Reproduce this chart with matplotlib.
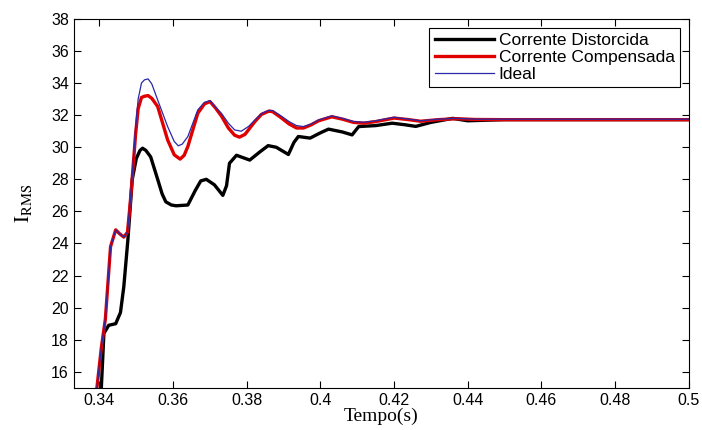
## RMS current step response: distorted vs compensated vs ideal
import matplotlib
matplotlib.use("Agg")
import matplotlib.pyplot as plt

t_ideal = [0.3393, 0.3405, 0.3416, 0.3430, 0.3444, 0.3455, 0.3466, 0.3476, 0.3483, 0.3490,
           0.3498, 0.3505, 0.3514, 0.3522, 0.3532, 0.3542, 0.3558, 0.3585, 0.3603, 0.3614,
           0.3625, 0.3640, 0.3667, 0.3685, 0.3700, 0.3715, 0.3731, 0.3750, 0.3767, 0.3785,
           0.3805, 0.3822, 0.3840, 0.3860, 0.3870, 0.3890, 0.3915, 0.3935, 0.3954, 0.3975,
           0.3995, 0.4031, 0.4060, 0.4090, 0.4118, 0.4150, 0.4200, 0.4240, 0.4272, 0.4320,
           0.4370, 0.4420, 0.4500, 0.5000]
ideal = [15.0, 17.5, 19.3, 23.8, 24.85, 24.6, 24.4, 24.7, 26.5, 28.6,
         31.2, 33.0, 34.0, 34.2, 34.26, 33.95, 32.95, 31.29, 30.36, 30.09,
         30.2, 30.67, 32.33, 32.8, 32.9, 32.5, 32.12, 31.5, 31.08, 31.0,
         31.3, 31.7, 32.1, 32.3, 32.29, 32.0, 31.6, 31.35, 31.29, 31.45,
         31.7, 31.96, 31.8, 31.6, 31.56, 31.65, 31.87, 31.75, 31.65, 31.75,
         31.8, 31.75, 31.75, 31.75]

t_comp = [0.3393, 0.3405, 0.3416, 0.3430, 0.3444, 0.3455, 0.3466, 0.3476, 0.3483, 0.3490,
          0.3498, 0.3505, 0.3514, 0.3522, 0.3532, 0.3542, 0.3558, 0.3585, 0.3603, 0.3619,
          0.3630, 0.3640, 0.3667, 0.3685, 0.3700, 0.3715, 0.3731, 0.3750, 0.3767, 0.3780,
          0.3795, 0.3822, 0.3840, 0.3860, 0.3870, 0.3890, 0.3915, 0.3935, 0.3954, 0.3975,
          0.3995, 0.4031, 0.4060, 0.4090, 0.4118, 0.4150, 0.4200, 0.4240, 0.4272, 0.4320,
          0.4370, 0.4420, 0.4500, 0.5000]
compensada = [15.0, 17.5, 19.3, 23.8, 24.85, 24.6, 24.4, 24.7, 26.4, 28.4,
              30.8, 32.4, 33.1, 33.18, 33.22, 33.05, 32.54, 30.46, 29.53, 29.26,
              29.5, 30.05, 32.12, 32.7, 32.85, 32.45, 31.95, 31.2, 30.75, 30.63,
              30.8, 31.6, 32.05, 32.25, 32.22, 31.9, 31.45, 31.2, 31.2, 31.4,
              31.65, 31.9, 31.75, 31.55, 31.5, 31.6, 31.82, 31.72, 31.62, 31.72,
              31.78, 31.73, 31.72, 31.72]

t_dist = [0.3405, 0.3412, 0.3425, 0.3444, 0.3457, 0.3466, 0.3477, 0.3489, 0.3500, 0.3510,
          0.3517, 0.3526, 0.3539, 0.3558, 0.3570, 0.3580, 0.3595, 0.3608, 0.3640, 0.3660,
          0.3675, 0.3690, 0.3712, 0.3735, 0.3745, 0.3753, 0.3772, 0.3790, 0.3808, 0.3835,
          0.3858, 0.3880, 0.3913, 0.3928, 0.3940, 0.3972, 0.4000, 0.4022, 0.4060, 0.4086,
          0.4104, 0.4150, 0.4195, 0.4230, 0.4259, 0.4300, 0.4359, 0.4400, 0.4500, 0.5000]
distorcida = [15.0, 18.4, 18.9, 19.0, 19.7, 21.3, 24.2, 28.0, 29.3, 29.8,
              29.94, 29.8, 29.4, 28.0, 27.1, 26.6, 26.4, 26.35, 26.4, 27.3,
              27.9, 28.0, 27.66, 27.0, 27.6, 29.0, 29.5, 29.35, 29.2, 29.7,
              30.1, 30.0, 29.55, 30.3, 30.67, 30.57, 30.9, 31.13, 30.95, 30.77,
              31.29, 31.35, 31.5, 31.4, 31.3, 31.55, 31.8, 31.65, 31.72, 31.72]

xticks = [0.34, 0.36, 0.38, 0.40, 0.42, 0.44, 0.46, 0.48, 0.50]
xtick_labels = ["0.34", "0.36", "0.38", "0.4", "0.42", "0.44", "0.46", "0.48", "0.5"]
yticks = list(range(16, 39, 2))

plt.rcParams['mathtext.fontset'] = 'stix'

fig = plt.figure(figsize=(7.02, 4.30), dpi=100)
ax = fig.add_axes([0.105, 0.098, 0.876, 0.858])

ax.plot(t_dist, distorcida, color="black", lw=2.4, label="Corrente Distorcida")
ax.plot(t_comp, compensada, color="#e00000", lw=2.4, label="Corrente Compensada")
ax.plot(t_ideal, ideal, color="#2828a8", lw=0.9, label="Ideal")

ax.set_xlim(0.333, 0.5)
ax.set_ylim(15, 38)
ax.set_xticks(xticks)
ax.set_xticklabels(xtick_labels)
ax.set_yticks(yticks)
ax.tick_params(direction="in", top=True, right=True, length=5, labelsize=11.5)
for lab in ax.get_xticklabels() + ax.get_yticklabels():
    lab.set_family("Liberation Sans")

ax.set_xlabel("Tempo(s)", family="Liberation Serif", fontsize=14, labelpad=0)
ax.set_ylabel(r"$\mathrm{I_{RMS}}$", fontsize=15, labelpad=12)

leg = ax.legend(loc="upper right", prop={"family": "Liberation Sans", "size": 12.5},
                fancybox=False, edgecolor="black", framealpha=1,
                borderpad=0.3, labelspacing=0.1, handlelength=3.4,
                handletextpad=0.3, borderaxespad=0.5)
leg.get_frame().set_linewidth(0.8)

fig.savefig("out.png", dpi=100)
